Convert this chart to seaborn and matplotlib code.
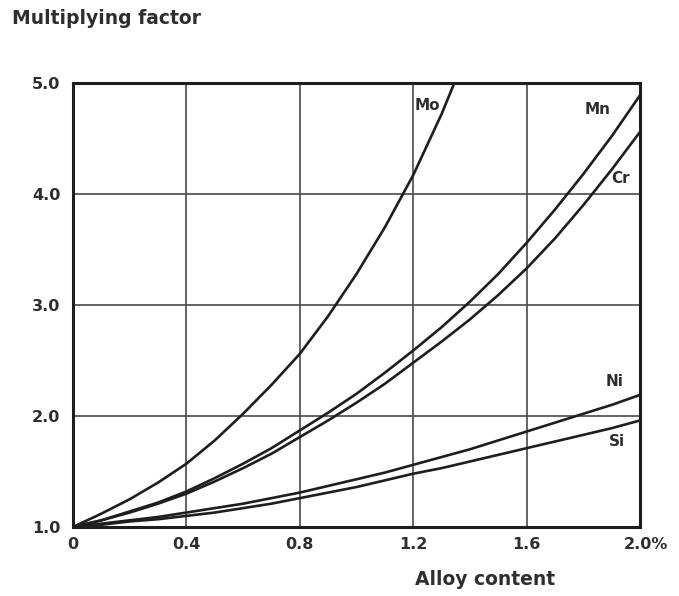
import matplotlib
matplotlib.use("Agg")
import matplotlib.pyplot as plt
import seaborn as sns
import pandas as pd

# Alloy content (%) sampled along each curve
x_common = [0.0, 0.1, 0.2, 0.3, 0.4, 0.5, 0.6, 0.7, 0.8, 0.9, 1.0,
            1.1, 1.2, 1.3, 1.4, 1.5, 1.6, 1.7, 1.8, 1.9, 2.0]
x_mo = [0.0, 0.1, 0.2, 0.3, 0.4, 0.5, 0.6, 0.7, 0.8, 0.9, 1.0,
        1.1, 1.2, 1.3, 1.345]

# Multiplying factor for each alloying element
mo = [1.0, 1.12, 1.25, 1.40, 1.57, 1.78, 2.02, 2.28, 2.56, 2.90, 3.28,
      3.70, 4.17, 4.72, 5.0]
mn = [1.0, 1.06, 1.14, 1.22, 1.32, 1.44, 1.57, 1.71, 1.87, 2.03, 2.20,
      2.39, 2.59, 2.80, 3.03, 3.28, 3.56, 3.86, 4.18, 4.52, 4.89]
cr = [1.0, 1.06, 1.13, 1.21, 1.30, 1.41, 1.53, 1.66, 1.81, 1.96, 2.12,
      2.29, 2.48, 2.67, 2.87, 3.09, 3.33, 3.60, 3.90, 4.22, 4.56]
ni = [1.0, 1.03, 1.06, 1.09, 1.13, 1.17, 1.21, 1.26, 1.31, 1.37, 1.43,
      1.49, 1.56, 1.63, 1.70, 1.78, 1.86, 1.94, 2.02, 2.10, 2.19]
si = [1.0, 1.02, 1.05, 1.07, 1.10, 1.13, 1.17, 1.21, 1.26, 1.31, 1.36,
      1.42, 1.48, 1.53, 1.59, 1.65, 1.71, 1.77, 1.83, 1.89, 1.96]

elements = ["Mo", "Mn", "Cr", "Ni", "Si"]
x_ticks = [0.0, 0.4, 0.8, 1.2, 1.6, 2.0]
x_tick_labels = ["0", "0.4", "0.8", "1.2", "1.6", "2.0%"]
y_ticks = [1.0, 2.0, 3.0, 4.0, 5.0]
y_tick_labels = ["1.0", "2.0", "3.0", "4.0", "5.0"]

# Curve labels: (element, x, y)
curve_labels = [("Mo", 1.25, 4.80), ("Mn", 1.85, 4.76), ("Cr", 1.93, 4.14),
                ("Ni", 1.91, 2.31), ("Si", 1.92, 1.77)]

frames = []
for name, xs, ys in [("Mo", x_mo, mo), ("Mn", x_common, mn), ("Cr", x_common, cr),
                     ("Ni", x_common, ni), ("Si", x_common, si)]:
    frames.append(pd.DataFrame({"alloy": xs, "factor": ys, "element": name}))
df = pd.concat(frames, ignore_index=True)

sns.set_theme(style="white")
plt.rcParams["font.family"] = ["DejaVu Sans"]
ink = "#1e1e1e"
font = dict(family="DejaVu Sans", weight="bold", color="#2e2e2e")

fig = plt.figure(figsize=(6.79, 5.96), dpi=100)
ax = fig.add_axes([0.1075, 0.1158, 0.8351, 0.7449])

sns.lineplot(data=df, x="alloy", y="factor", hue="element", hue_order=elements,
             palette=[ink] * len(elements), linewidth=1.9, legend=False,
             sort=False, estimator=None, ax=ax)

ax.set_xlim(0, 2.0)
ax.set_ylim(1.0, 5.0)
ax.set_xticks(x_ticks)
ax.set_yticks(y_ticks)
ax.set_xticklabels(x_tick_labels[:-1] + [""], fontsize=11.5, **font)
ax.set_yticklabels(y_tick_labels, fontsize=11.5, **font)
ax.tick_params(length=0)
ax.tick_params(axis="x", pad=7)
ax.tick_params(axis="y", pad=9)

ax.grid(True, color="#4a4a4a", linewidth=1.2)
ax.set_axisbelow(True)
for sp in ax.spines.values():
    sp.set_visible(True)
    sp.set_color(ink)
    sp.set_linewidth(2.2)

ax.annotate(x_tick_labels[-1], xy=(2.0, 0), xycoords=("data", "axes fraction"),
            xytext=(-12, -7), textcoords="offset points", ha="left", va="top",
            fontsize=11.5, **font)

for name, lx, ly in curve_labels:
    ax.text(lx, ly, name, ha="center", va="center", fontsize=11, **font)

ax.set_xlabel("Alloy content", fontsize=13.5, **font)
ax.xaxis.set_label_coords(0.727, -0.097)
ax.set_ylabel("")
fig.text(12 / 679, 1 - 19 / 596, "Multiplying factor", ha="left", va="center",
         fontsize=13.5, **font)

fig.savefig("out.png", dpi=100, facecolor="white")
